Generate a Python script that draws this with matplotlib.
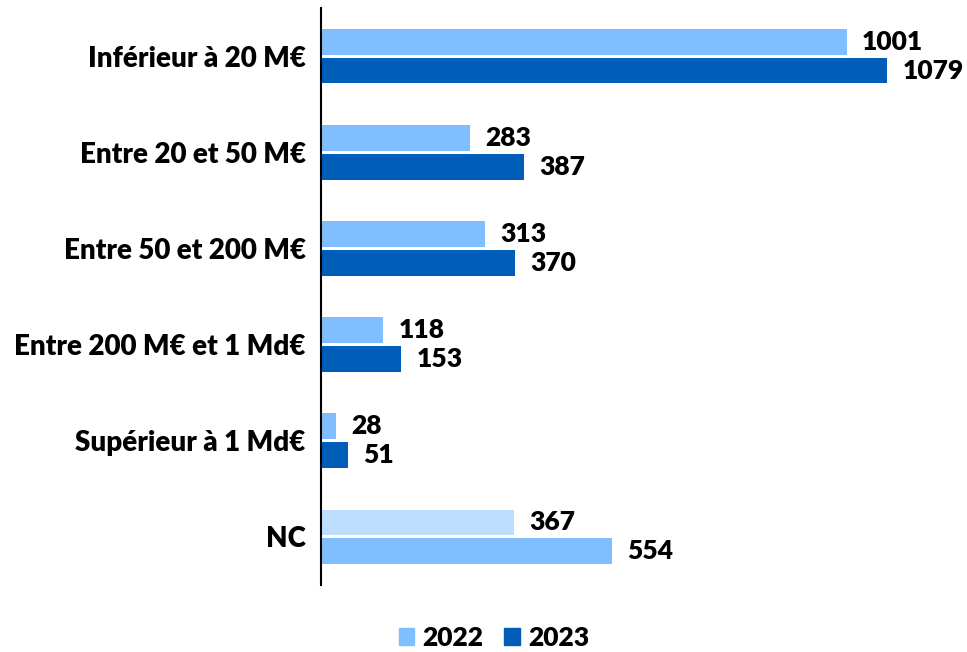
import matplotlib.pyplot as plt
import numpy as np
from matplotlib.patches import Patch

categories = ["Inférieur à 20 M€", "Entre 20 et 50 M€", "Entre 50 et 200 M€",
              "Entre 200 M€ et 1 Md€", "Supérieur à 1 Md€", "NC"]
values_2022 = [1001, 283, 313, 118, 28, 367]
values_2023 = [1079, 387, 370, 153, 51, 554]

light = "#7FBFFF"
dark = "#005EB8"
pale = "#BDDEFF"

# the NC row is drawn one shade lighter in the original
colors_2022 = [light] * 5 + [pale]
colors_2023 = [dark] * 5 + [light]

plt.rcParams["font.family"] = ["Lato", "DejaVu Sans"]
W = "heavy"

fig = plt.figure(figsize=(9.67, 6.52), dpi=100)
ax = fig.add_axes([321 / 967, 1 - 585 / 652, (951 - 321) / 967, (585 - 8) / 652])

y = np.arange(len(categories))
h = 0.27
off = 0.15
ax.barh(y - off, values_2022, height=h, color=colors_2022)
ax.barh(y + off, values_2023, height=h, color=colors_2023)

for yi, v in zip(y, values_2022):
    ax.annotate(str(v), (v, yi - off), xytext=(11, 0), textcoords="offset points",
                va="center", ha="left", fontsize=19, fontweight=W)
for yi, v in zip(y, values_2023):
    ax.annotate(str(v), (v, yi + off), xytext=(11, 0), textcoords="offset points",
                va="center", ha="left", fontsize=19, fontweight=W)

ax.set_xlim(0, 1200)
ax.set_ylim(len(categories) - 0.5, -0.5)
ax.set_yticks(y)
ax.set_yticklabels(categories, fontsize=20, fontweight=W)
ax.tick_params(axis="y", length=0, pad=11)
ax.set_xticks([])
for s in ["top", "right", "bottom"]:
    ax.spines[s].set_visible(False)
ax.spines["left"].set_linewidth(1.5)

handles = [Patch(color=light, label="2022"), Patch(color=dark, label="2023")]
fig.legend(handles=handles, loc="center", bbox_to_anchor=(494 / 967, 1 - 638 / 652),
           ncol=2, frameon=False, prop={"size": 19, "weight": W},
           handlelength=0.6, handleheight=0.6, columnspacing=0.8, handletextpad=0.3)

fig.savefig("out.png", dpi=100)
